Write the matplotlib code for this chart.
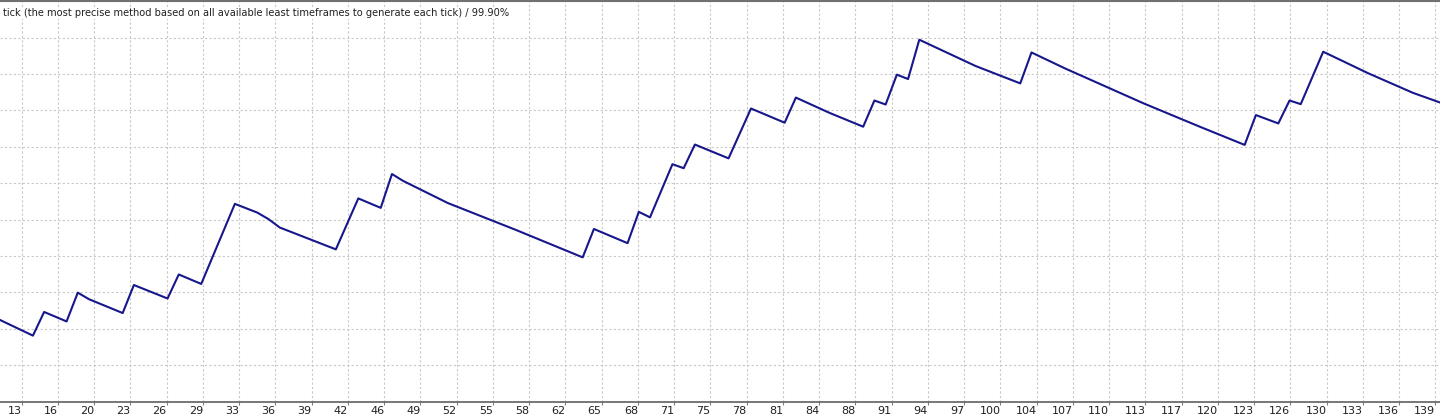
import numpy as np
import matplotlib
matplotlib.use("Agg")
import matplotlib.pyplot as plt

# --- Balance curve (trade number, balance) ---
trades = [11, 14, 15, 17, 18, 19, 22, 23, 26, 27, 29, 32, 34, 35, 36, 41, 43, 45,
          46, 47, 51, 57, 63, 64, 67, 68, 69, 71, 72, 73, 76, 78, 81, 82, 85, 88,
          89, 90, 91, 92, 93, 98, 102, 103, 106, 113, 118, 122, 123, 125, 126,
          127, 129, 133, 137, 140]
balance = [10225, 10181, 10246, 10220, 10299, 10281, 10243, 10320, 10283, 10349,
           10323, 10543, 10519, 10501, 10478, 10418, 10558, 10532, 10625, 10606,
           10545, 10472, 10396, 10474, 10435, 10521, 10506, 10652, 10641, 10706,
           10668, 10805, 10766, 10835, 10793, 10755, 10827, 10816, 10898, 10886,
           10994, 10922, 10874, 10959, 10915, 10819, 10755, 10705, 10787, 10764,
           10827, 10817, 10961, 10902, 10848, 10815]

# --- Axis labels ---
tick_labels = ["13", "16", "20", "23", "26", "29", "33", "36", "39", "42", "46",
               "49", "52", "55", "58", "62", "65", "68", "71", "75", "78", "81",
               "84", "88", "91", "94", "97", "100", "104", "107", "110", "113",
               "117", "120", "123", "126", "130", "133", "136", "139"]
grid_levels = [10100, 10200, 10300, 10400, 10500, 10600, 10700, 10800, 10900, 11000]
header = ("tick (the most precise method based on all available least "
          "timeframes to generate each tick) / 99.90%")

W, H = 1440, 419
fig = plt.figure(figsize=(W / 100, H / 100), dpi=100)
ax = fig.add_axes([0, 17.5 / H, 1, (401.5 - 1.5) / H])

# tick positions: 39 equal steps between the first and last label
tick_pos = np.linspace(13, 139, len(tick_labels))
ax.set_xlim(11.066, 139.41)
ax.set_ylim(10000, 11099)

ax.set_xticks(tick_pos)
ax.set_xticklabels(tick_labels, ha="right")
ax.set_yticks(grid_levels)
ax.set_yticklabels([])

ax.grid(True, color="#c8c8c8", linestyle=(0, (2, 2)), linewidth=0.8)
ax.set_axisbelow(True)

ax.plot(trades, balance, color="#17178c", linewidth=1.5, zorder=3)

for side in ["left", "right"]:
    ax.spines[side].set_visible(False)
ax.spines["bottom"].set_color("#606060")
ax.spines["bottom"].set_linewidth(1.2)
ax.spines["top"].set_color("#707070")
ax.spines["top"].set_linewidth(1.5)

ax.tick_params(axis="x", length=2.5, width=0.8, color="#808080", pad=1,
               labelsize=8, labelcolor="#202020")
ax.tick_params(axis="y", length=0)

fig.text(3 / W, 1 - 13 / H, header, fontsize=7.15, color="#202020",
         ha="left", va="center",
         bbox=dict(facecolor="white", edgecolor="none", pad=1))

fig.savefig("out.png", dpi=100)
